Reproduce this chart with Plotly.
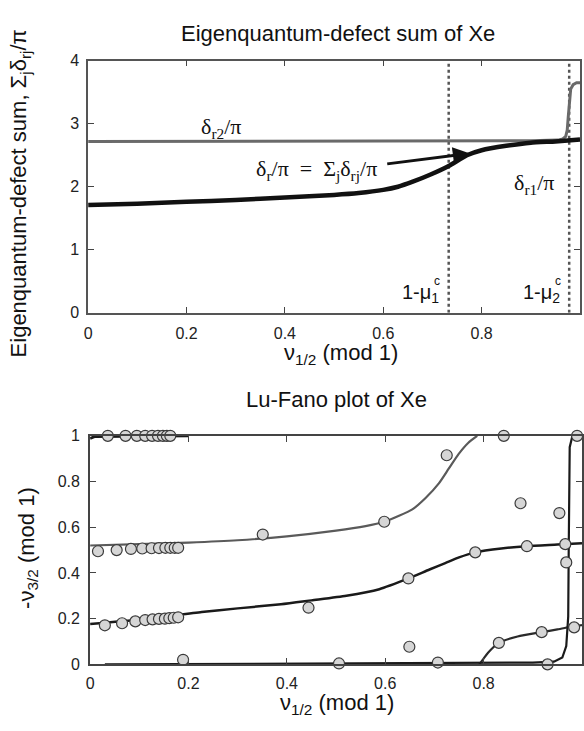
import plotly.graph_objects as go

# ---------------- data: top panel (eigenquantum-defect sum) ----------------
sum_x = [0, 0.1, 0.2, 0.3, 0.4, 0.5, 0.55, 0.6, 0.63, 0.66, 0.695, 0.733, 0.77, 0.8, 0.85, 0.9, 0.95, 1.0]
sum_y = [1.71, 1.73, 1.76, 1.79, 1.83, 1.87, 1.9, 1.95, 2.0, 2.08, 2.19, 2.33, 2.5, 2.58, 2.65, 2.7, 2.72, 2.75]
r2_x = [0, 0.3, 0.6, 0.9, 0.955, 0.965, 0.971, 0.974, 0.976, 0.978, 0.981, 0.986, 0.993, 1.0]
r2_y = [2.72, 2.72, 2.72, 2.73, 2.74, 2.76, 2.8, 2.9, 3.1, 3.35, 3.55, 3.62, 3.65, 3.65]
mu_c = [0.733, 0.978]
top_xticks = [0, 0.2, 0.4, 0.6, 0.8, 1]
top_xtick_text = ["0", "0.2", "0.4", "0.6", "0.8", "1"]
top_yticks = [0, 1, 2, 3, 4]

# ---------------- data: bottom panel (Lu-Fano plot) ----------------
curveA_x = [0, 0.1, 0.2, 0.3, 0.4, 0.5, 0.56, 0.598, 0.628, 0.655, 0.682, 0.709, 0.729, 0.749, 0.769, 0.787]
curveA_y = [0.52, 0.526, 0.533, 0.543, 0.56, 0.585, 0.605, 0.624, 0.65, 0.678, 0.728, 0.792, 0.856, 0.92, 0.97, 1.0]
curveA2_x = [0.791, 0.8, 0.809, 0.831, 0.869, 0.918, 0.95, 0.984, 1.0]
curveA2_y = [0.0, 0.025, 0.051, 0.094, 0.122, 0.141, 0.153, 0.167, 0.172]
curveB_x = [0, 0.1, 0.227, 0.3, 0.388, 0.45, 0.521, 0.588, 0.647, 0.69, 0.722, 0.75, 0.783, 0.836, 0.888, 0.95, 1.0]
curveB_y = [0.177, 0.195, 0.229, 0.245, 0.263, 0.28, 0.30, 0.329, 0.376, 0.415, 0.443, 0.468, 0.49, 0.507, 0.517, 0.524, 0.53]
curveC_x = [0.03, 0.3, 0.6, 0.8, 0.9, 0.943, 0.96, 0.968, 0.972, 0.973, 0.975, 0.98, 0.99, 1.0]
curveC_y = [0.0, 0.002, 0.004, 0.006, 0.008, 0.012, 0.03, 0.08, 0.21, 0.5, 0.95, 0.995, 1.0, 1.0]
curveCtop_x = [0, 0.01, 0.2]
curveCtop_y = [0.988, 0.997, 1.0]

pts_x = [0.036, 0.072, 0.095, 0.112, 0.126, 0.138, 0.148, 0.156, 0.163,
         0.016, 0.054, 0.083, 0.106, 0.125, 0.14, 0.153, 0.163, 0.172, 0.179,
         0.03, 0.065, 0.092, 0.112, 0.127, 0.14, 0.152, 0.161, 0.17, 0.179,
         0.189, 0.351, 0.444, 0.506, 0.598, 0.647, 0.649, 0.707, 0.725, 0.783,
         0.831, 0.841, 0.875, 0.888, 0.918, 0.93, 0.954, 0.966, 0.968, 0.984, 0.99]
pts_y = [1.0, 1.0, 1.0, 1.0, 1.0, 1.0, 1.0, 1.0, 1.0,
         0.495, 0.50, 0.505, 0.507, 0.508, 0.509, 0.51, 0.51, 0.51, 0.51,
         0.171, 0.18, 0.188, 0.194, 0.197, 0.199, 0.2, 0.202, 0.204, 0.206,
         0.02, 0.568, 0.248, 0.004, 0.624, 0.376, 0.077, 0.008, 0.915, 0.49,
         0.094, 1.0, 0.705, 0.517, 0.141, 0.0, 0.662, 0.526, 0.446, 0.162, 1.0]
bot_ticks = [0, 0.2, 0.4, 0.6, 0.8, 1]
bot_tick_text = ["0", "0.2", "0.4", "0.6", "0.8", "1"]

W, H = 584, 731
SANS = "Liberation Sans, Arial, sans-serif"
SERIF = "Liberation Serif, Times New Roman, serif"

def px_x(p):
    return p / W

def px_y(p):
    return 1 - p / H

fig = go.Figure()

# top panel
for m in mu_c:
    fig.add_trace(go.Scatter(x=[m, m], y=[0, 4], mode="lines",
                             line=dict(color="#555555", width=2.5, dash="dot"),
                             xaxis="x", yaxis="y", hoverinfo="skip"))
fig.add_trace(go.Scatter(x=r2_x, y=r2_y, mode="lines",
                         line=dict(color="#6a6a6a", width=3),
                         xaxis="x", yaxis="y"))
fig.add_trace(go.Scatter(x=sum_x, y=sum_y, mode="lines",
                         line=dict(color="#111111", width=4.5, shape="spline", smoothing=0.5),
                         xaxis="x", yaxis="y"))

# bottom panel
fig.add_trace(go.Scatter(x=curveA_x, y=curveA_y, mode="lines",
                         line=dict(color="#5a5a5a", width=2.2, shape="spline", smoothing=0.6),
                         xaxis="x2", yaxis="y2", cliponaxis=False))
fig.add_trace(go.Scatter(x=curveA2_x, y=curveA2_y, mode="lines",
                         line=dict(color="#2a2a2a", width=2.2, shape="spline", smoothing=0.6),
                         xaxis="x2", yaxis="y2", cliponaxis=False))
fig.add_trace(go.Scatter(x=curveB_x, y=curveB_y, mode="lines",
                         line=dict(color="#1a1a1a", width=2.5, shape="spline", smoothing=0.6),
                         xaxis="x2", yaxis="y2", cliponaxis=False))
fig.add_trace(go.Scatter(x=curveC_x, y=curveC_y, mode="lines",
                         line=dict(color="#1a1a1a", width=2.2),
                         xaxis="x2", yaxis="y2", cliponaxis=False))
fig.add_trace(go.Scatter(x=curveCtop_x, y=curveCtop_y, mode="lines",
                         line=dict(color="#1a1a1a", width=2.8),
                         xaxis="x2", yaxis="y2", cliponaxis=False))
fig.add_trace(go.Scatter(x=pts_x, y=pts_y, mode="markers",
                         marker=dict(size=11, color="#d6d6d6",
                                     line=dict(color="#3a3a3a", width=1.2)),
                         xaxis="x2", yaxis="y2", cliponaxis=False))

axis_common = dict(showgrid=False, zeroline=False, showline=True, mirror="ticks",
                   ticks="inside", ticklen=6, tickwidth=1.2, tickcolor="#444444",
                   tickfont=dict(family=SANS, size=16, color="#222222"))

fig.update_layout(
    width=W, height=H, margin=dict(l=0, r=0, t=0, b=0),
    paper_bgcolor="white", plot_bgcolor="white", showlegend=False,
    xaxis=dict(domain=[px_x(85), px_x(582)], range=[0, 1], anchor="y",
               tickvals=top_xticks, ticktext=top_xtick_text,
               linecolor="#555555", linewidth=1.5, ticklabelstandoff=5, **axis_common),
    yaxis=dict(domain=[px_y(312), px_y(54)], range=[0, 4], anchor="x",
               tickvals=top_yticks, linecolor="#555555", linewidth=1.5,
               ticklabelstandoff=4, **axis_common),
    xaxis2=dict(domain=[px_x(87), 1.0], range=[0, 1], anchor="y2",
                tickvals=bot_ticks, ticktext=bot_tick_text,
                linecolor="#444444", linewidth=2, ticklabelstandoff=3, **axis_common),
    yaxis2=dict(domain=[px_y(672), px_y(438)], range=[0, 1], anchor="x2",
                tickvals=bot_ticks, ticktext=bot_tick_text,
                linecolor="#444444", linewidth=2, ticklabelstandoff=5, **axis_common),
)

ann = []
# titles and axis labels (paper coordinates)
ann.append(dict(text="Eigenquantum-defect sum of Xe", x=px_x(337), y=px_y(26),
                font=dict(family=SANS, size=22, color="#111111")))
ann.append(dict(text="Lu-Fano plot of Xe", x=px_x(336), y=px_y(401),
                font=dict(family=SANS, size=22, color="#111111")))
ann.append(dict(text="ν<sub>1/2</sub> (mod 1)", x=px_x(341), y=px_y(354),
                font=dict(family=SANS, size=22, color="#111111")))
ann.append(dict(text="ν<sub>1/2</sub> (mod 1)", x=px_x(336), y=px_y(713),
                font=dict(family=SANS, size=22, color="#111111")))
ann.append(dict(text="Eigenquantum-defect sum, Σ<sub>j</sub>δ<sub>rj</sub>/π", x=px_x(16), y=px_y(190),
                textangle=-90, font=dict(family=SANS, size=22, color="#111111")))
ann.append(dict(text="-ν<sub>3/2</sub> (mod 1)", x=px_x(24), y=px_y(553),
                textangle=-90, font=dict(family=SANS, size=22, color="#111111")))
for a in ann:
    a.update(xref="paper", yref="paper", showarrow=False, xanchor="center", yanchor="middle")

data_ann = [
    dict(text="δ<sub>r2</sub>/π", x=0.27, y=2.93, xanchor="center",
         font=dict(family=SERIF, size=22, color="#111111")),
    dict(text="δ<sub>r</sub>/π  =  Σ<sub>j</sub>δ<sub>rj</sub>/π", x=0.465, y=2.27, xanchor="center",
         font=dict(family=SERIF, size=22, color="#111111")),
    dict(text="δ<sub>r1</sub>/π", x=0.906, y=2.05, xanchor="center",
         font=dict(family=SERIF, size=22, color="#111111")),
    dict(text="1-μ<sub>1</sub>", x=0.718, y=0.3, xanchor="right",
         font=dict(family=SANS, size=20, color="#111111")),
    dict(text="c", x=0.718, y=0.3, xanchor="right", yshift=13, xshift=1,
         font=dict(family=SANS, size=12, color="#111111")),
    dict(text="1-μ<sub>2</sub>", x=0.963, y=0.3, xanchor="right",
         font=dict(family=SANS, size=20, color="#111111")),
    dict(text="c", x=0.963, y=0.3, xanchor="right", yshift=13, xshift=1,
         font=dict(family=SANS, size=12, color="#111111")),
]
for a in data_ann:
    a.update(xref="x", yref="y", showarrow=False, yanchor="middle")
    ann.append(a)

# arrow pointing to the sum curve
ann.append(dict(x=0.775, y=2.53, ax=0.605, ay=2.36, xref="x", yref="y", axref="x", ayref="y",
                text="", showarrow=True, arrowhead=2, arrowsize=1.1, arrowwidth=3,
                arrowcolor="#111111"))

fig.update_layout(annotations=ann)
fig.write_html("out.html")
